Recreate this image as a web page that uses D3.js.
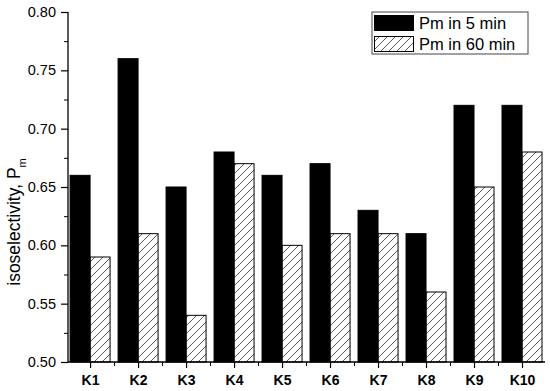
<!DOCTYPE html>
<html lang="en">
<head>
<meta charset="utf-8">
<title>Isoselectivity</title>
<script src="https://d3js.org/d3.v7.min.js"></script>
<style>
  body { margin: 0; background: #fff; }
  text { font-family: "Liberation Sans", Arial, sans-serif; fill: #000; }
</style>
</head>
<body>
<div id="chart"></div>
<script>
// data
var catalysts = ["K1", "K2", "K3", "K4", "K5", "K6", "K7", "K8", "K9", "K10"];
var pm5 = [0.66, 0.76, 0.65, 0.68, 0.66, 0.67, 0.63, 0.61, 0.72, 0.72];
var pm60 = [0.59, 0.61, 0.54, 0.67, 0.60, 0.61, 0.61, 0.56, 0.65, 0.68];
var yTicks = [0.50, 0.55, 0.60, 0.65, 0.70, 0.75, 0.80];
var seriesNames = ["Pm in 5 min", "Pm in 60 min"];

var w = 550, h = 391;
var plotL = 68, plotR = 546, plotT = 12, plotB = 362;

var svg = d3.select("#chart").append("svg")
  .attr("width", w)
  .attr("height", h);

var defs = svg.append("defs");
defs.append("pattern")
  .attr("id", "hatch")
  .attr("patternUnits", "userSpaceOnUse")
  .attr("width", 8).attr("height", 8)
  .append("path")
  .attr("d", "M-1,1 l2,-2 M0,8 l8,-8 M7,9 l2,-2")
  .attr("stroke", "#222")
  .attr("stroke-width", 0.75);

var x = d3.scaleLinear().domain([0.54, 10.5]).range([plotL, plotR]);
var y = d3.scaleLinear().domain([0.5, 0.8]).range([plotB, plotT]);
var barW = 20;

// bars
var g = svg.append("g");
g.selectAll(".b5").data(pm5).enter().append("rect")
  .attr("x", function(d, i) { return x(i + 1) - barW; })
  .attr("y", function(d) { return y(d); })
  .attr("width", barW)
  .attr("height", function(d) { return y(0.5) - y(d); })
  .attr("fill", "#000")
  .attr("stroke", "#000");

g.selectAll(".b60").data(pm60).enter().append("rect")
  .attr("x", function(d, i) { return x(i + 1); })
  .attr("y", function(d) { return y(d); })
  .attr("width", barW)
  .attr("height", function(d) { return y(0.5) - y(d); })
  .attr("fill", "url(#hatch)")
  .attr("stroke", "#000");

// y axis
var yAxis = svg.append("g")
  .attr("transform", "translate(" + plotL + ",0)")
  .call(d3.axisLeft(y).tickValues(yTicks).tickFormat(d3.format(".2f")).tickSize(7).tickPadding(5));
yAxis.select(".domain").attr("stroke-width", 1.3).attr("d", "M0," + plotT + "V" + plotB);
yAxis.selectAll("text").style("font-size", "14.5px").attr("font-family", null);
yAxis.selectAll(".tick line").attr("stroke-width", 1.2);

svg.append("g")
  .attr("transform", "translate(" + plotL + ",0)")
  .call(d3.axisLeft(y).tickValues(d3.range(0.525, 0.8, 0.05)).tickFormat("").tickSize(4))
  .call(function(s) { s.select(".domain").remove(); });

// x axis
var xAxis = svg.append("g")
  .attr("transform", "translate(0," + plotB + ")")
  .call(d3.axisBottom(x).tickValues(d3.range(1, 11)).tickFormat(function(d) { return catalysts[d - 1]; }).tickSize(6).tickPadding(7));
xAxis.select(".domain").attr("stroke-width", 1.3).attr("d", "M" + plotL + ",0H" + (plotR - 1));
xAxis.selectAll("text").style("font-size", "14px").style("font-weight", "bold").attr("font-family", null);
xAxis.selectAll(".tick line").attr("stroke-width", 1.2);

svg.append("g")
  .attr("transform", "translate(0," + plotB + ")")
  .call(d3.axisBottom(x).tickValues(d3.range(1.5, 10.5, 1)).tickFormat("").tickSize(4))
  .call(function(s) { s.select(".domain").remove(); });

// y label
var yl = svg.append("text")
  .attr("transform", "translate(20,222) rotate(-90)")
  .attr("text-anchor", "middle")
  .style("font-size", "17.5px");
yl.append("tspan").text("isoselectivity, P");
yl.append("tspan").attr("baseline-shift", "sub").style("font-size", "11px").text("m");

// legend
var lg = svg.append("g").attr("transform", "translate(372,12)");
lg.append("rect")
  .attr("width", 156).attr("height", 42)
  .attr("fill", "#fff").attr("stroke", "#444").attr("stroke-width", 1);
var fills = ["#000", "url(#hatch)"];
seriesNames.forEach(function(name, i) {
  lg.append("rect")
    .attr("x", 2.5).attr("y", 3.5 + i * 21)
    .attr("width", 39).attr("height", 15)
    .attr("fill", fills[i]).attr("stroke", "#000");
  lg.append("text")
    .attr("x", 47).attr("y", 17 + i * 21)
    .style("font-size", "16.5px")
    .text(name);
});
</script>
</body>
</html>
